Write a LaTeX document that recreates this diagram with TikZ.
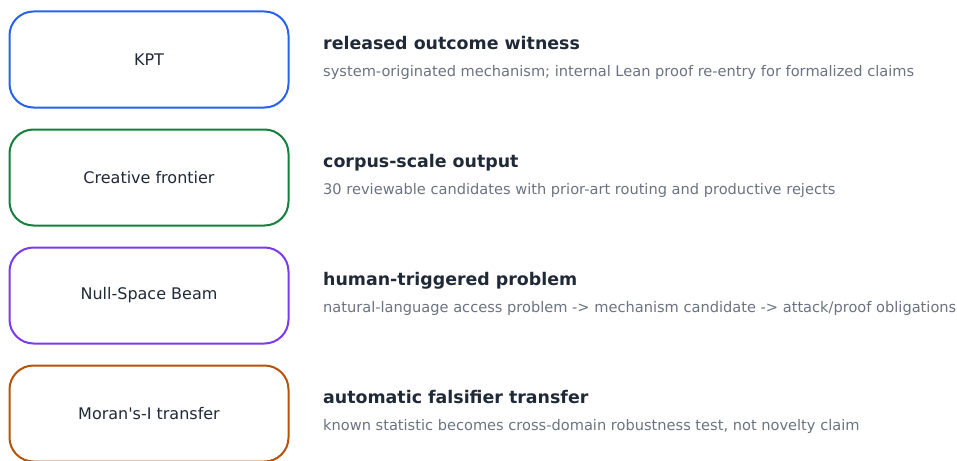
\documentclass[tikz,border=0pt]{standalone}
\usepackage{fontspec}
\setmainfont{DejaVu Sans}
\definecolor{kptblue}{HTML}{2563EB}
\definecolor{frontgreen}{HTML}{15803D}
\definecolor{beampurple}{HTML}{7C3AED}
\definecolor{moranorange}{HTML}{B45309}
\definecolor{ink}{HTML}{1F2937}
\definecolor{muted}{HTML}{6B7280}
\tikzset{
  lane/.style={draw=#1, line width=2pt, rounded corners=24pt,
    minimum width=279pt, minimum height=96pt, text=ink,
    font=\fontsize{16}{19}\selectfont},
  headline/.style={anchor=base west, inner sep=0pt, text=ink,
    font=\bfseries\fontsize{17.4}{21}\selectfont},
  gloss/.style={anchor=base west, inner sep=0pt, text=muted,
    font=\fontsize{14.6}{17}\selectfont}
}
\begin{document}
\begin{tikzpicture}[x=1pt,y=-1pt]
  \useasboundingbox (0,0) rectangle (957,460);
  % mechanism boxes
  \node[lane=kptblue] (kpt) at (149,59.5) {KPT};
  \node[lane=frontgreen] (front) at (149,177.5) {Creative frontier};
  \node[lane=beampurple] (beam) at (149,295.5) {Null-Space Beam};
  \node[lane=moranorange] (moran) at (149,413.5) {Moran\textquotesingle s-I transfer};
  % what each one produced
  \node[headline] (kpth) at (323,49.5) {released outcome witness};
  \node[gloss] (kptg) at (323,76.5) {system-originated mechanism; internal Lean proof re-entry for formalized claims};
  \node[headline] (fronth) at (323,167.5) {corpus-scale output};
  \node[gloss] (frontg) at (323,194.5) {30 reviewable candidates with prior-art routing and productive rejects};
  \node[headline] (beamh) at (323,285.5) {human-triggered problem};
  \node[gloss] (beamg) at (323,312.5) {natural-language access problem -> mechanism candidate -> attack/proof obligations};
  \node[headline] (moranh) at (323,403.5) {automatic falsifier transfer};
  \node[gloss] (morang) at (323,430.5) {known statistic becomes cross-domain robustness test, not novelty claim};
\end{tikzpicture}
\end{document}
